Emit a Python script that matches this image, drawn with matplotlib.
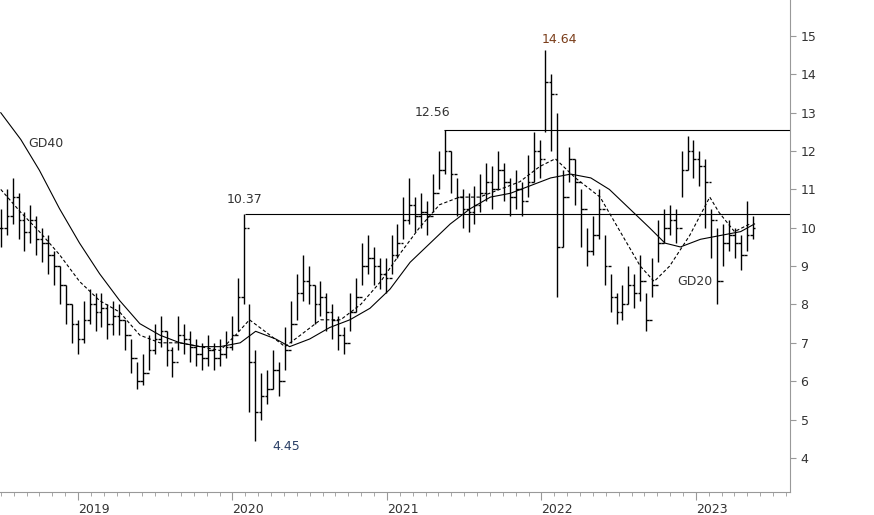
import numpy as np
import matplotlib
matplotlib.use("Agg")
import matplotlib.pyplot as plt

# Zweiwochen-Balken ab Juli 2018 (Dezimaljahre)
start_year = 2018.5
step = 14 / 365.25

close = [10.0,10.3,10.8,10.2,9.9,10.2,9.7,9.6,9.3,9.0,
         8.5,8.0,7.5,7.1,7.6,8.0,7.8,7.9,7.5,7.7,
         7.6,7.2,6.6,6.0,6.2,6.8,7.1,7.3,6.8,6.5,
         7.2,7.1,6.9,6.7,6.6,6.8,6.6,6.7,6.9,7.2,
         8.2,10.0,6.5,5.2,5.6,5.8,6.3,6.0,6.8,7.5,
         8.3,8.6,8.5,8.0,8.2,7.8,7.6,7.2,7.0,7.8,
         8.2,9.0,9.2,9.0,8.8,8.7,9.3,9.6,10.2,10.6,
         10.3,10.4,10.3,10.9,11.5,12.0,11.4,10.8,10.5,10.4,
         10.6,10.9,11.2,11.0,11.5,11.2,10.8,11.0,10.7,11.2,
         12.0,11.8,13.8,13.5,9.5,10.8,11.8,11.2,10.5,9.4,
         9.8,10.5,9.0,8.2,7.8,8.0,8.5,8.3,8.6,7.6,
         8.5,9.6,10.0,10.2,10.0,11.5,12.0,11.8,11.6,11.2,
         10.2,8.6,9.6,9.8,9.6,9.3,9.8,10.0]
high = [10.5,11.0,11.3,10.9,10.4,10.6,10.3,10.0,9.8,9.4,
        9.0,8.5,8.0,7.6,8.1,8.4,8.3,8.3,8.0,8.1,
        8.0,7.6,7.1,6.5,6.7,7.2,7.5,7.7,7.3,6.9,
        7.7,7.5,7.3,7.1,7.0,7.2,7.0,7.1,7.3,7.7,
        8.7,10.37,8.0,6.8,6.2,6.3,6.8,6.5,7.4,8.1,
        8.8,9.3,9.0,8.5,8.6,8.3,8.0,7.7,7.4,8.3,
        8.7,9.6,9.8,9.5,9.2,9.2,9.8,10.1,10.8,11.3,
        10.8,10.9,10.7,11.4,12.0,12.56,12.0,11.3,11.0,10.9,
        11.1,11.4,11.7,11.6,12.0,11.7,11.3,11.5,11.2,11.9,
        12.5,12.3,14.64,14.0,13.0,11.5,12.1,11.8,11.0,10.0,
        10.3,11.0,9.8,8.8,8.3,8.5,9.0,8.8,9.3,8.3,
        9.2,10.2,10.5,10.6,10.5,12.0,12.4,12.3,12.0,11.8,
        10.5,10.0,10.1,10.2,10.0,9.8,10.7,10.3]
low = [9.5,9.8,10.1,9.7,9.4,9.6,9.3,9.1,8.8,8.5,
       8.0,7.5,7.0,6.7,7.0,7.5,7.3,7.4,7.1,7.2,
       7.2,6.8,6.2,5.8,5.9,6.3,6.7,6.9,6.4,6.1,
       6.8,6.7,6.5,6.4,6.3,6.4,6.3,6.4,6.6,6.8,
       7.3,8.0,5.2,4.45,5.0,5.4,5.8,5.6,6.3,7.0,
       7.6,8.1,8.0,7.5,7.7,7.3,7.1,6.8,6.7,7.3,
       7.8,8.5,8.8,8.5,8.4,8.3,8.8,9.2,9.7,10.1,
       9.9,10.0,9.8,10.4,11.0,11.4,10.9,10.3,10.0,9.9,
       10.1,10.4,10.7,10.5,11.0,10.7,10.3,10.5,10.3,10.8,
       11.2,11.3,12.5,12.0,8.2,9.5,11.2,10.6,9.5,9.0,
       9.3,9.7,8.5,7.8,7.5,7.6,8.0,7.9,8.1,7.3,
       8.2,9.1,9.6,9.8,9.6,10.8,11.5,11.3,11.1,10.0,
       9.2,8.0,9.0,9.4,9.2,8.9,9.4,9.7]

# Gleitende Durchschnitte
gd40_x = [2018.50,2018.63,2018.75,2018.88,2019.01,2019.14,2019.27,2019.40,2019.53,2019.66,
          2019.79,2019.92,2020.05,2020.15,2020.28,2020.37,2020.50,2020.63,2020.76,2020.89,
          2021.02,2021.15,2021.28,2021.41,2021.54,2021.67,2021.80,2021.93,2022.06,2022.19,
          2022.32,2022.44,2022.57,2022.70,2022.80,2022.90,2023.03,2023.16,2023.29,2023.38]
gd40_y = [13.0,12.3,11.5,10.5,9.6,8.8,8.1,7.5,7.2,7.0,
          6.9,6.9,7.0,7.3,7.1,6.9,7.1,7.4,7.6,7.9,
          8.4,9.1,9.6,10.1,10.5,10.8,10.9,11.1,11.3,11.4,
          11.3,11.0,10.5,10.0,9.6,9.5,9.7,9.8,9.9,10.1]
gd20_x = [2018.50,2018.63,2018.75,2018.88,2019.01,2019.14,2019.27,2019.40,2019.53,2019.66,
          2019.79,2019.92,2020.02,2020.11,2020.21,2020.34,2020.44,2020.57,2020.70,2020.83,
          2020.96,2021.08,2021.21,2021.34,2021.47,2021.60,2021.73,2021.86,2021.99,2022.09,
          2022.22,2022.38,2022.51,2022.64,2022.73,2022.83,2022.96,2023.09,2023.15,2023.25,2023.35]
gd20_y = [11.0,10.4,9.9,9.3,8.6,8.1,7.8,7.2,7.0,7.0,
          6.9,6.8,7.2,7.6,7.3,6.9,7.2,7.6,7.6,8.0,
          8.6,9.3,10.0,10.6,10.8,10.8,11.0,11.2,11.6,11.8,
          11.3,10.8,9.9,9.0,8.6,9.0,9.8,10.8,10.4,9.9,10.1]

years = [2019, 2020, 2021, 2022, 2023]
yticks = [4, 5, 6, 7, 8, 9, 10, 11, 12, 13, 14, 15]

x = start_year + step * np.arange(len(close))
opens = [close[0]] + close[:-1]
tick = step * 0.45

fig = plt.figure(figsize=(8.74, 5.15), dpi=100)
ax = fig.add_axes([0, 0.0447, 0.904, 0.9553])

# OHLC-Balken
ax.vlines(x, low, high, color='black', lw=1.0)
ax.hlines(opens, x - tick, x, color='black', lw=1.0)
ax.hlines(close, x, x + tick, color='black', lw=1.0)

ax.plot(gd40_x, gd40_y, color='black', lw=0.8)
ax.plot(gd20_x, gd20_y, color='black', lw=0.8, ls=(0, (3, 2)))

xmax = 2023.61
ax.hlines(10.37, 2020.08, xmax, color='black', lw=0.8)
ax.hlines(12.56, 2021.37, xmax, color='black', lw=0.8)

ax.text(2018.68, 12.2, 'GD40', fontsize=9, color='#333333', va='center')
ax.text(2022.88, 8.6, 'GD20', fontsize=9, color='#333333', va='center')
ax.text(2019.96, 10.75, '10.37', fontsize=9, color='#333333', va='center')
ax.text(2020.26, 4.3, '4.45', fontsize=9, color='#2a3f66', va='center')
ax.text(2021.18, 13.0, '12.56', fontsize=9, color='#333333', va='center')
ax.text(2022.0, 14.92, '14.64', fontsize=9, color='#7a3d1a', va='center')

ax.set_xlim(2018.495, xmax)
ax.set_ylim(3.11, 15.94)

for s in ['top', 'left']:
    ax.spines[s].set_visible(False)
ax.spines['right'].set_color('#999999')
ax.spines['bottom'].set_color('#999999')
ax.yaxis.tick_right()
ax.set_yticks(yticks)
ax.tick_params(axis='y', colors='#999999', labelcolor='#333333', labelsize=9, length=4)
ax.set_xticks(years)
ax.set_xticklabels([str(y) for y in years], ha='left')
ax.set_xticks(np.arange(2018.5, 2023.6, 1 / 12), minor=True)
ax.tick_params(axis='x', which='major', colors='#999999', labelcolor='#333333',
               labelsize=9, length=6, pad=2)
ax.tick_params(axis='x', which='minor', colors='#999999', length=3)

fig.savefig('out.png', dpi=100)
